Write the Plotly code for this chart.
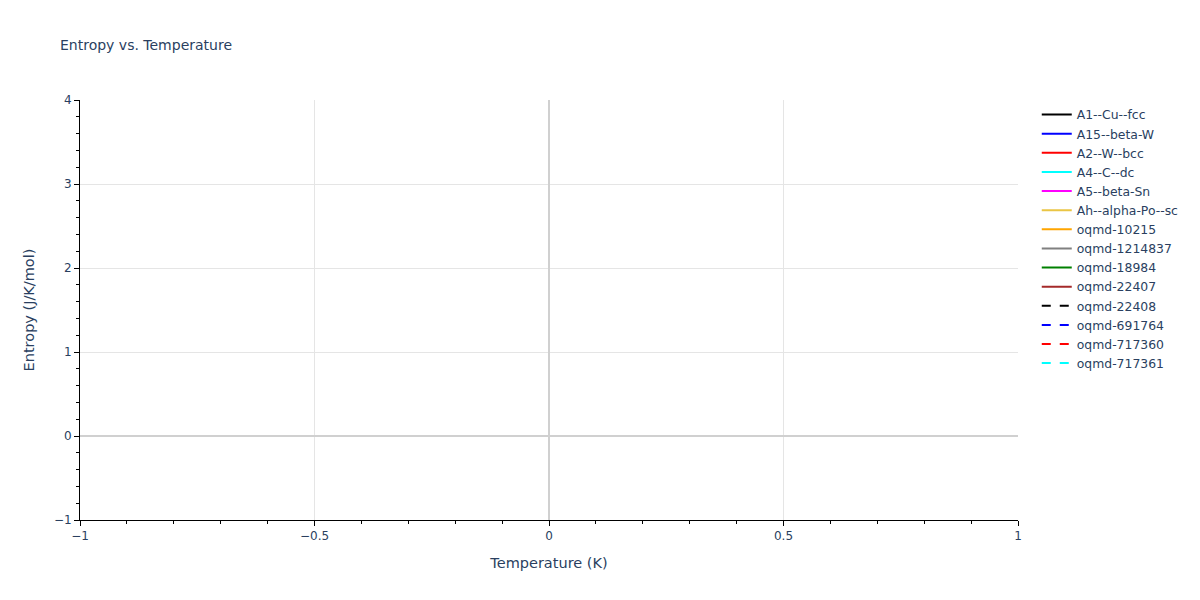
import plotly.graph_objects as go

# the source figure has no points in any trace, only legend entries
names = ["A1--Cu--fcc", "A15--beta-W", "A2--W--bcc", "A4--C--dc", "A5--beta-Sn",
         "Ah--alpha-Po--sc", "oqmd-10215", "oqmd-1214837", "oqmd-18984",
         "oqmd-22407", "oqmd-22408", "oqmd-691764", "oqmd-717360", "oqmd-717361"]
colors = ["black", "blue", "red", "cyan", "magenta", "#EAC545", "orange",
          "gray", "green", "brown", "black", "blue", "red", "cyan"]
dashes = ["solid"] * 10 + ["dash"] * 4
temperature = [None]
entropy = [None]

fig = go.Figure()
for n, c, d in zip(names, colors, dashes):
    fig.add_trace(go.Scatter(x=temperature, y=entropy, mode="lines", name=n,
                             line=dict(color=c, dash=d, width=2)))

axis = dict(showline=True, linecolor="black", linewidth=1, ticks="outside",
            ticklen=5, tickcolor="black", showgrid=True, gridcolor="#e5e5e5",
            zeroline=True, zerolinecolor="#d0d0d0", zerolinewidth=2,
            tickfont=dict(size=12), title_font=dict(size=14.5),
            minor=dict(ticks="outside", ticklen=3, tickcolor="black", showgrid=False))

fig.update_layout(
    template="plotly_white",
    width=1200, height=600,
    font=dict(family="DejaVu Sans", size=12.4, color="#2a3f5f"),
    title=dict(text="Entropy vs. Temperature", x=0.05, font=dict(size=14)),
    xaxis=dict(title="Temperature (K)", range=[-1, 1], dtick=0.5, **axis),
    yaxis=dict(title="Entropy (J/K/mol)", range=[-1, 4], dtick=1, **axis),
    margin=dict(l=80, r=182, t=100, b=80),
    showlegend=True,
)
fig.update_xaxes(minor_dtick=0.1)
fig.update_yaxes(minor_dtick=0.2)

# drop the page's default body margin so the figure sits at the window corner
fig.write_html("out.html", config={"displayModeBar": False},
               post_script="document.body.style.margin='0';")
